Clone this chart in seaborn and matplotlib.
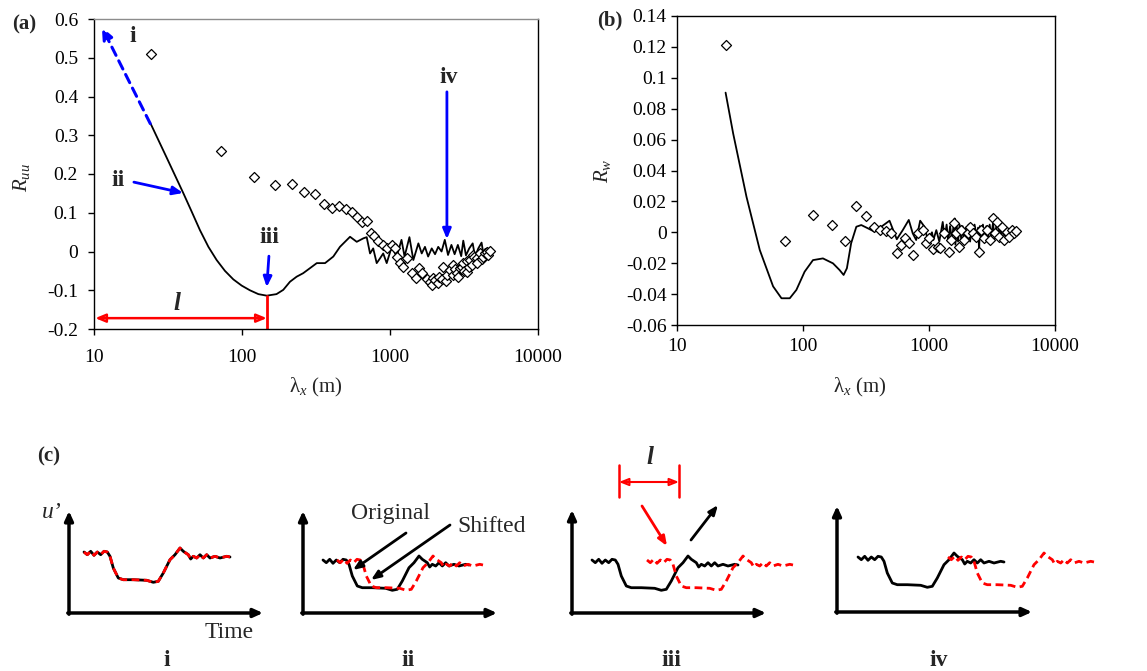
import numpy as np
import pandas as pd
import matplotlib
matplotlib.use("Agg")
import matplotlib.pyplot as plt
import seaborn as sns

# ---------------- data: panel (a) ----------------
lam_a_line = [24.2, 31.0, 40.2, 45.7, 52.0, 59.3, 67.4, 76.7, 87.4, 99.5, 113, 129, 147, 171,
              190, 211, 234, 259, 288, 320, 364, 414, 459, 537,
              596, 661, 696, 733, 770, 813, 855, 900, 950, 1027, 1110, 1196, 1254, 1353, 1438,
              1555, 1638, 1723, 1810, 1914, 2015, 2118, 2230, 2346, 2466, 2600, 2733, 2874,
              3028, 3127, 3260, 3430, 3620, 3754, 3950, 4157, 4300, 4499, 4740]
R_a_line = [0.329, 0.242, 0.150, 0.103, 0.055, 0.012, -0.022, -0.050, -0.072, -0.088, -0.100,
            -0.110, -0.114, -0.110, -0.099, -0.078, -0.065, -0.056, -0.043, -0.030, -0.030,
            -0.013, 0.012, 0.038,
            0.025, 0.034, 0.037, -0.005, 0.008, -0.030,
            -0.018, -0.005, -0.030, 0.012, -0.013, 0.030, -0.013, 0.037, -0.022, 0.021, -0.005,
            0.012, -0.013, 0.008, -0.007, 0.012, 0.000, 0.030, -0.009, 0.017, -0.007, 0.017,
            -0.012, 0.028, -0.010, 0.008, 0.021, -0.013, 0.008, 0.023, -0.013, 0.008, 0.000]

lam_a_pts = [24.2, 71.8, 120, 168, 217, 262, 311, 358, 403, 454, 504, 556, 595, 644, 696, 741,
             780, 834, 893, 950, 1027, 1081, 1110, 1169, 1231, 1310, 1402, 1500, 1580, 1638,
             1770, 1850, 1914, 1950, 2015, 2100, 2155, 2250, 2293, 2400, 2415, 2541, 2650,
             2677, 2750, 2818, 2900, 2969, 3050, 3127, 3150, 3294, 3300, 3400, 3470, 3600,
             3654, 3700, 3850, 3900, 4055, 4200, 4272, 4400, 4499, 4600, 4740]
R_a_pts = [0.51, 0.26, 0.193, 0.171, 0.173, 0.154, 0.148, 0.122, 0.111, 0.117, 0.109, 0.101,
           0.090, 0.075, 0.079, 0.049, 0.040, 0.028, 0.017, 0.008, 0.017, 0.008, -0.015, -0.030,
           -0.039, -0.018, -0.056, -0.069, -0.043, -0.056, -0.072, -0.078, -0.086, -0.068,
           -0.073, -0.080, -0.065, -0.070, -0.039, -0.075, -0.060, -0.048, -0.060, -0.035,
           -0.045, -0.056, -0.065, -0.043, -0.040, -0.030, -0.050, -0.052, -0.025, -0.040,
           -0.022, -0.035, -0.009, -0.015, -0.018, -0.030, -0.005, -0.020, -0.013, -0.005,
           0.000, -0.010, 0.002]

# ---------------- data: panel (b) ----------------
lam_b_line = [24.3, 27.9, 35.6, 45.4, 57.9, 67.5, 78.5, 88.6, 103, 120, 144, 173, 195, 210, 223,
              241, 265, 290, 327, 369, 418, 486, 555, 619, 691, 743, 791, 851, 921, 978, 1056,
              1083, 1143, 1207, 1285, 1330, 1380, 1420, 1470, 1520, 1560, 1600, 1620, 1660,
              1700, 1750, 1800, 1850, 1900, 1950, 2000, 2060, 2120, 2180, 2240, 2300, 2380,
              2450, 2500, 2530, 2600, 2680, 2760, 2850, 2940, 3030, 3120, 3220, 3320, 3420,
              3520, 3620, 3730, 3850, 3970, 4100, 4230, 4370, 4520, 4680, 4850]
R_b_line = [0.0904, 0.064, 0.023, -0.0115, -0.035, -0.0427, -0.0427, -0.0373, -0.0255, -0.018,
            -0.0169, -0.0201, -0.0244, -0.0276, -0.0233, -0.0071, 0.0036, 0.0047, 0.0026,
            0.0004, 0.0036, 0.0075, -0.0045, 0.0014, 0.008, -0.0007, -0.005, 0.0075, 0.0036,
            -0.005, 0.0, -0.005, 0.0014, -0.006, 0.0067, -0.004, 0.005, -0.006, 0.004, -0.005,
            0.003, 0.009, -0.008, 0.004, -0.006, 0.005, -0.004, 0.004, -0.006, 0.003, -0.005,
            0.005, -0.006, 0.004, -0.004, 0.005, -0.003, 0.003, -0.012, 0.004, -0.004, 0.005,
            -0.005, 0.004, -0.004, 0.005, -0.003, 0.006, -0.004, 0.004, -0.005, 0.004, -0.004,
            0.003, -0.003, 0.003, -0.003, 0.002, -0.002, 0.001, 0.0]

lam_b_pts = [24.3, 72.6, 121, 169, 216, 265, 314, 363, 410, 457, 501, 555, 601, 650, 691, 743,
             814, 892, 948, 1007, 1083, 1172, 1226, 1325, 1435, 1497, 1590, 1640, 1722, 1800,
             1910, 2030, 2122, 2228, 2340, 2494, 2604, 2720, 2860, 3047, 3246, 3348, 3454,
             3622, 3785, 3950, 4150, 4352, 4545, 4745, 4920]
R_b_pts = [0.121, -0.0058, 0.0114, 0.0047, -0.0058, 0.0172, 0.0107, 0.0036, 0.0014, 0.001,
           -0.0007, -0.0132, -0.0082, -0.0039, -0.0071, -0.0147, -0.0007, 0.0014, -0.0071,
           -0.0039, -0.011, -0.0093, -0.0103, -0.0007, -0.0125, -0.005, 0.0058, -0.0007,
           -0.0093, 0.0014, -0.005, -0.0007, 0.0036, -0.0007, -0.0029, -0.0125, 0.0014,
           -0.0039, 0.0014, -0.005, 0.009, -0.0007, 0.0067, -0.0029, 0.0036, -0.005, 0.0,
           -0.0029, 0.0014, -0.0003, 0.001]

# tick labels
xticks = [10, 100, 1000, 10000]
xticklabels = ["10", "100", "1000", "10000"]
yticks_a = [-0.2, -0.1, 0.0, 0.1, 0.2, 0.3, 0.4, 0.5, 0.6]
yticklabels_a = ["-0.2", "-0.1", "0", "0.1", "0.2", "0.3", "0.4", "0.5", "0.6"]
yticks_b = [-0.06, -0.04, -0.02, 0.0, 0.02, 0.04, 0.06, 0.08, 0.10, 0.12, 0.14]
yticklabels_b = ["-0.06", "-0.04", "-0.02", "0", "0.02", "0.04", "0.06", "0.08", "0.1",
                 "0.12", "0.14"]

# ---------------- data: panel (c) schematic signal (time, u' offset in px) ----------------
sig_t = [0, 3.3, 6.7, 10, 13.3, 16.7, 20, 23.3, 26, 29.3, 34.3, 39.3, 49.3, 62.7, 69.3, 74.3,
         79.3, 86, 91, 96, 99.3, 104.3, 106.7, 109.3, 112.7, 116, 119.3, 122.7, 126, 131, 136,
         142.7, 146]
sig_u = [0, 2.7, -0.7, 3.3, 0, 2.7, -0.7, 0, 4.3, 16, 26, 27.7, 27.7, 28.3, 30.3, 29.3, 21,
         7.7, 2.7, -4, -0.7, 2.7, 7, 4.3, 6, 2.7, 6, 2.7, 6, 4.3, 6, 4.3, 5]
sub_labels = ["i", "ii", "iii", "iv"]
sub_shift = [0, 14, 55, 90]

# ---------------- style ----------------
sns.set_style("ticks")
plt.rcParams["font.family"] = ["Liberation Serif", "DejaVu Serif"]
plt.rcParams["mathtext.fontset"] = "custom"
plt.rcParams["mathtext.rm"] = "Liberation Serif"
plt.rcParams["mathtext.it"] = "Liberation Serif:italic"
plt.rcParams["mathtext.bf"] = "Liberation Serif:bold"
plt.rcParams["axes.unicode_minus"] = False

W, H = 1147, 671
fig = plt.figure(figsize=(W / 100, H / 100), dpi=100)
fig.patch.set_facecolor("white")


def style_axes(ax, yticks, ylabels, top_color, ypad, xpad):
    ax.set_xscale("log")
    ax.set_xlim(10, 10000)
    ax.set_xticks(xticks)
    ax.set_xticklabels(xticklabels)
    ax.xaxis.set_minor_locator(matplotlib.ticker.NullLocator())
    ax.set_yticks(yticks)
    ax.set_yticklabels(ylabels)
    ax.tick_params(axis="both", direction="out", length=4.5, width=1, labelsize=14,
                   colors="black")
    ax.tick_params(axis="y", pad=ypad)
    ax.tick_params(axis="x", pad=xpad)
    for s in ["left", "bottom", "right"]:
        ax.spines[s].set_color("black")
        ax.spines[s].set_linewidth(1)
    ax.spines["top"].set_color(top_color)
    ax.spines["top"].set_linewidth(1)
    ax.set_facecolor("white")
    ax.grid(False)


# ---------------- panel (a) ----------------
ax_a = fig.add_axes([94 / W, 1 - 329 / H, 444 / W, 310 / H])
sns.lineplot(x=lam_a_line, y=R_a_line, ax=ax_a, sort=False, estimator=None, color="black",
             lw=1.3)
sns.scatterplot(x=lam_a_pts, y=R_a_pts, ax=ax_a, marker="D", s=26, facecolor="white",
                edgecolor="black", linewidth=0.9, zorder=3)
ax_a.set_ylim(-0.2, 0.6)
style_axes(ax_a, yticks_a, yticklabels_a, "#8c8c8c", 7, 10)
ax_a.set_ylabel("$R_{uu}$", fontsize=15)
ax_a.set_xlabel("λ$_{x}$ (m)", fontsize=15)
ax_a.yaxis.set_label_coords(-0.14, 0.49)
ax_a.xaxis.set_label_coords(0.5, -0.15)

# annotations (a)
ax_a.annotate("", xy=(11.3, 0.579), xytext=(24.0, 0.33),
              arrowprops=dict(arrowstyle="-|>,head_length=0.7,head_width=0.3", color="blue",
                              lw=2.2, linestyle=(0, (3, 2)), shrinkA=0, shrinkB=0))
blue_kw = dict(arrowstyle="-|>,head_length=0.6,head_width=0.25", color="blue", lw=2,
               shrinkA=0, shrinkB=0)
ax_a.annotate("", xy=(40, 0.151), xytext=(18.6, 0.179), arrowprops=blue_kw)
ax_a.annotate("", xy=(147, -0.092), xytext=(152, -0.012), arrowprops=blue_kw)
ax_a.annotate("", xy=(2424, 0.032), xytext=(2424, 0.412), arrowprops=blue_kw)
ax_a.annotate("", xy=(10.2, -0.172), xytext=(147, -0.172),
              arrowprops=dict(arrowstyle="<|-|>,head_length=0.6,head_width=0.25",
                              color="red", lw=1.8, shrinkA=0, shrinkB=0, fill=False))
ax_a.plot([148, 148], [-0.114, -0.2], color="red", lw=2)
lbl_kw = dict(fontsize=17, fontweight="bold", ha="center", va="center")
ax_a.text(18.3, 0.555, "i", **lbl_kw)
ax_a.text(14.5, 0.182, "ii", **lbl_kw)
ax_a.text(152, 0.035, "iii", **lbl_kw)
ax_a.text(2506, 0.45, "iv", **lbl_kw)
ax_a.text(36.4, -0.133, "l", fontsize=18, fontweight="bold", fontstyle="italic",
          ha="center", va="center")

# ---------------- panel (b) ----------------
ax_b = fig.add_axes([677 / W, 1 - 325 / H, 378 / W, 309 / H])
sns.lineplot(x=lam_b_line, y=R_b_line, ax=ax_b, sort=False, estimator=None, color="black",
             lw=1.3)
sns.scatterplot(x=lam_b_pts, y=R_b_pts, ax=ax_b, marker="D", s=26, facecolor="white",
                edgecolor="black", linewidth=0.9, zorder=3)
ax_b.set_ylim(-0.06, 0.14)
style_axes(ax_b, yticks_b, yticklabels_b, "black", 3, 5)
ax_b.set_ylabel("$R_w$", fontsize=15)
ax_b.set_xlabel("λ$_{x}$ (m)", fontsize=15)
ax_b.yaxis.set_label_coords(-0.17, 0.50)
ax_b.xaxis.set_label_coords(0.484, -0.165)

# ---------------- overlay (panel labels + panel c) ----------------
ov = fig.add_axes([0, 0, 1, 1])
ov.set_xlim(0, W)
ov.set_ylim(H, 0)
ov.axis("off")
ov.patch.set_visible(False)

ov.text(24, 24, "(a)", fontsize=15, fontweight="bold", ha="center", va="center")
ov.text(610, 20, "(b)", fontsize=15, fontweight="bold", ha="center", va="center")
ov.text(49, 456, "(c)", fontsize=15, fontweight="bold", ha="center", va="center")

# schematic axes frames: (origin x, origin y, top y, right x)
frames = [(69, 613, 511, 263), (303, 613, 511, 497), (572, 613, 510, 766), (837, 612, 506, 1032)]
starts = [(84, 552), (323, 560), (592, 560), (858, 557)]
label_x = [167, 408, 671, 939]
ax_kw = dict(arrowstyle="-|>,head_length=0.55,head_width=0.25", color="black", lw=2.5,
             shrinkA=0, shrinkB=0)
for k in range(4):
    ox, oy, ty, rx = frames[k]
    ov.annotate("", xy=(ox, ty), xytext=(ox, oy + 1.2), arrowprops=ax_kw)
    ov.annotate("", xy=(rx, oy), xytext=(ox - 1.2, oy), arrowprops=ax_kw)
    sx, sy = starts[k]
    bx = [sx + t for t in sig_t]
    by = [sy + u for u in sig_u]
    rxs = [sx + sub_shift[k] + t for t in sig_t]
    sns.lineplot(x=bx, y=by, ax=ov, sort=False, estimator=None, color="black", lw=2.0)
    sns.lineplot(x=rxs, y=by, ax=ov, sort=False, estimator=None, color="red", lw=2.0,
                 linestyle=(0, (2.8, 1.6)))
    ov.text(label_x[k], 660, sub_labels[k], fontsize=17, fontweight="bold", ha="center",
            va="center")

ov.text(52, 513, "u\u2019", fontsize=17, fontstyle="italic", ha="center", va="center")
ov.text(229, 632, "Time", fontsize=17, ha="center", va="center")
ov.text(391, 514, "Original", fontsize=17, ha="center", va="center")
ov.text(492, 526, "Shifted", fontsize=17, ha="center", va="center")
blk_kw = dict(arrowstyle="-|>,head_length=0.55,head_width=0.22", color="black", lw=2,
              shrinkA=0, shrinkB=0)
ov.annotate("", xy=(353, 570), xytext=(406, 533), arrowprops=blk_kw)
ov.annotate("", xy=(371, 580), xytext=(450, 525), arrowprops=blk_kw)
ov.annotate("", xy=(667, 546), xytext=(642, 506),
            arrowprops=dict(blk_kw, color="red"))
ov.annotate("", xy=(718, 505), xytext=(691, 540), arrowprops=blk_kw)
ov.annotate("", xy=(619, 482), xytext=(679, 482),
            arrowprops=dict(arrowstyle="<|-|>,head_length=0.55,head_width=0.22", color="red",
                            lw=1.5, shrinkA=0, shrinkB=0, fill=False))
ov.plot([619, 619], [465, 497], color="red", lw=1.8)
ov.plot([679, 679], [465, 497], color="red", lw=1.8)
ov.text(650, 458, "l", fontsize=18, fontweight="bold", fontstyle="italic", ha="center",
        va="center")

fig.savefig("out.png", dpi=100, facecolor="white")
